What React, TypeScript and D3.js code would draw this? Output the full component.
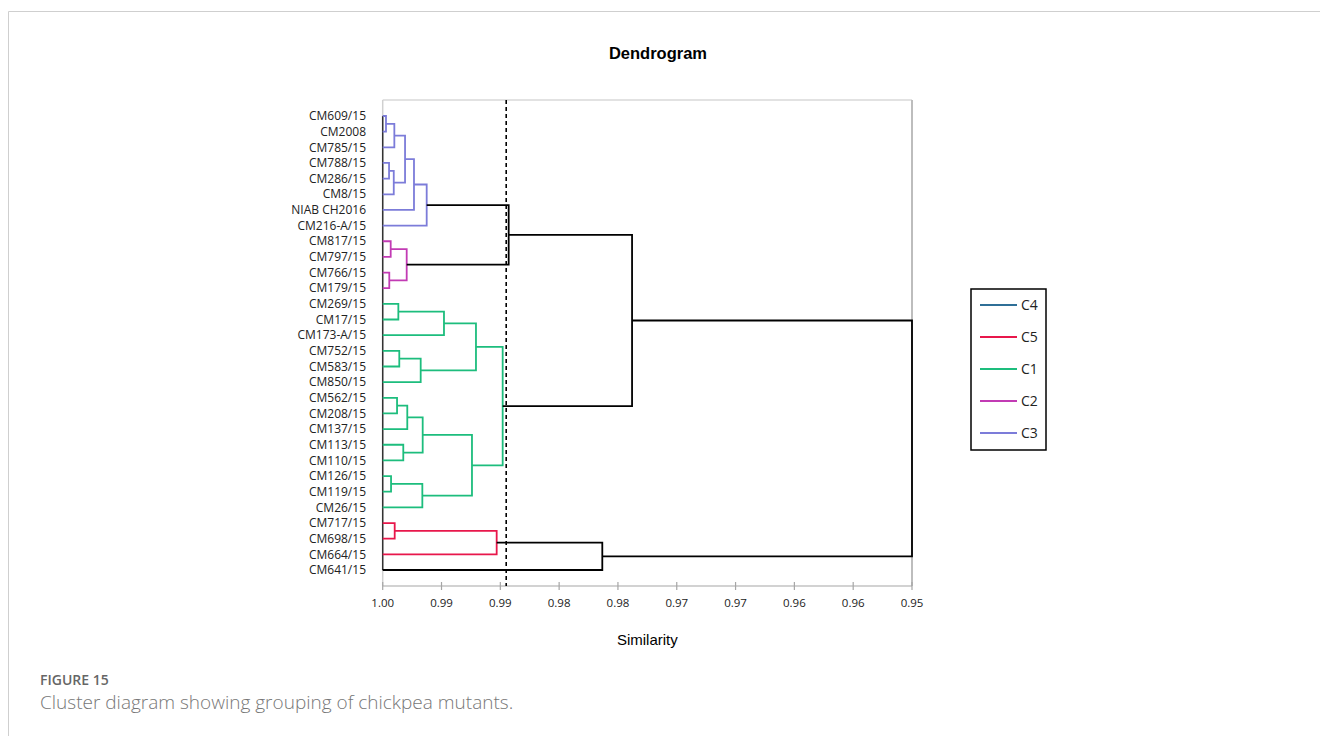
import * as d3 from "d3"

// leaf order, top to bottom
const leaves = [
  "CM609/15", "CM2008", "CM785/15", "CM788/15", "CM286/15", "CM8/15", "NIAB CH2016", "CM216-A/15",
  "CM817/15", "CM797/15", "CM766/15", "CM179/15",
  "CM269/15", "CM17/15", "CM173-A/15", "CM752/15", "CM583/15", "CM850/15", "CM562/15", "CM208/15",
  "CM137/15", "CM113/15", "CM110/15", "CM126/15", "CM119/15", "CM26/15",
  "CM717/15", "CM698/15", "CM664/15", "CM641/15",
]

// merges: [id, left, right, similarity, cluster] (null cluster = black link)
const merges: [string, string, string, number, string | null][] = [
  ["a1", "CM609/15", "CM2008", 0.99972, "C3"],
  ["a2", "a1", "CM785/15", 0.99901, "C3"],
  ["a3", "CM788/15", "CM286/15", 0.99946, "C3"],
  ["a4", "a3", "CM8/15", 0.99906, "C3"],
  ["a5", "a2", "a4", 0.9981, "C3"],
  ["a6", "a5", "NIAB CH2016", 0.99734, "C3"],
  ["a7", "a6", "CM216-A/15", 0.99626, "C3"],
  ["b1", "CM817/15", "CM797/15", 0.99932, "C2"],
  ["b2", "CM766/15", "CM179/15", 0.99944, "C2"],
  ["b3", "b1", "b2", 0.99796, "C2"],
  ["ab", "a7", "b3", 0.98929, null],
  ["g1", "CM269/15", "CM17/15", 0.99867, "C1"],
  ["g2", "g1", "CM173-A/15", 0.99479, "C1"],
  ["g3", "CM752/15", "CM583/15", 0.99859, "C1"],
  ["g4", "g3", "CM850/15", 0.99677, "C1"],
  ["g5", "g2", "g4", 0.99207, "C1"],
  ["g6", "CM562/15", "CM208/15", 0.99878, "C1"],
  ["g7", "g6", "CM137/15", 0.99791, "C1"],
  ["g8", "CM113/15", "CM110/15", 0.99825, "C1"],
  ["g9", "g7", "g8", 0.9966, "C1"],
  ["g10", "CM126/15", "CM119/15", 0.99929, "C1"],
  ["g11", "g10", "CM26/15", 0.99663, "C1"],
  ["g12", "g9", "g11", 0.99241, "C1"],
  ["g13", "g5", "g12", 0.9898, "C1"],
  ["abg", "ab", "g13", 0.9788, null],
  ["r1", "CM717/15", "CM698/15", 0.99898, "C5"],
  ["r2", "r1", "CM664/15", 0.99031, "C5"],
  ["r3", "r2", "CM641/15", 0.98133, null],
  ["root", "abg", "r3", 0.955, null],
]

const tickValues = [1, 0.995, 0.99, 0.985, 0.98, 0.975, 0.97, 0.965, 0.96, 0.955]
const tickLabels = ["1.00", "0.99", "0.99", "0.98", "0.98", "0.97", "0.97", "0.96", "0.96", "0.95"]

const cutoff = 0.9895

const legendKeys = ["C4", "C5", "C1", "C2", "C3"]
const clusterColors: Record<string, string> = {
  C4: "#2f6f97",
  C5: "#e8174b",
  C1: "#1dbd7d",
  C2: "#c23bb4",
  C3: "#7c7cd9",
}

const labelFont = "'Open Sans', 'Noto Sans', sans-serif"
const arial = "'Liberation Sans', Arial, sans-serif"

export default function App() {
  const left = 382.7
  const right = 912
  const top = 100
  const axisY = 586

  const x = d3.scaleLinear().domain([1, 0.955]).range([left, right])
  const y = d3.scalePoint<string>().domain(leaves).range([116, 570])

  // node positions
  const pos = new Map<string, { x: number; y: number }>()
  leaves.forEach((l) => pos.set(l, { x: x(1), y: y(l) as number }))
  const links = merges.map(([id, a, b, sim, cl]) => {
    const pa = pos.get(a)!
    const pb = pos.get(b)!
    const nx = x(sim)
    pos.set(id, { x: nx, y: (pa.y + pb.y) / 2 })
    const path = d3.path()
    path.moveTo(pa.x, pa.y)
    path.lineTo(nx, pa.y)
    path.lineTo(nx, pb.y)
    path.lineTo(pb.x, pb.y)
    return { id, d: path.toString(), color: cl ? clusterColors[cl] : "#000", black: !cl }
  })

  const ordered = [...links.filter((l) => !l.black), ...links.filter((l) => l.black)]

  return (
    <svg
      width={1320}
      height={736}
      style={{ position: "absolute", left: 0, top: 0, background: "#fff" }}
    >
      {/* page frame */}
      <path d="M8.5,736 L8.5,11.5 L1320,11.5" fill="none" stroke="#cfcfcf" strokeWidth={1} />

      <text x={658} y={59} textAnchor="middle" fontFamily={arial} fontWeight="bold" fontSize={16.5} fill="#000">
        Dendrogram
      </text>

      {/* plot area frame */}
      <line x1={left} x2={right} y1={top} y2={top} stroke="#d9d9d9" strokeWidth={1.5} />
      <line x1={right} x2={right} y1={top} y2={axisY} stroke="#bdbdbd" strokeWidth={2} />
      <line x1={left} x2={left} y1={top} y2={axisY} stroke="#d0d0d0" strokeWidth={1.5} />

      {/* x axis */}
      <line x1={left} x2={right} y1={axisY} y2={axisY} stroke="#a6a6a6" strokeWidth={1.2} />
      {tickValues.map((t, i) => (
        <g key={i}>
          <line x1={x(t)} x2={x(t)} y1={axisY - 4} y2={axisY + 4} stroke="#a6a6a6" strokeWidth={1.2} />
          <text x={x(t)} y={axisY + 21} textAnchor="middle" fontFamily={labelFont} fontSize={11.5} fill="#222">
            {tickLabels[i]}
          </text>
        </g>
      ))}
      <text x={(left + right) / 2} y={645} textAnchor="middle" fontFamily={arial} fontSize={15} fill="#000">
        Similarity
      </text>

      {/* leaf labels */}
      {leaves.map((l) => (
        <text key={l} x={366} y={(y(l) as number) + 4.2} textAnchor="end" fontFamily={labelFont} fontSize={12} fill="#222">
          {l}
        </text>
      ))}

      {/* leaf base line */}
      <line x1={x(1)} x2={x(1)} y1={y(leaves[0])} y2={y(leaves[leaves.length - 1])} stroke="#333" strokeWidth={1.5} />

      {/* tree links */}
      {ordered.map((l) => (
        <path key={l.id} d={l.d} fill="none" stroke={l.color} strokeWidth={1.8} />
      ))}

      {/* cut-off */}
      <line x1={x(cutoff)} x2={x(cutoff)} y1={top} y2={axisY} stroke="#000" strokeWidth={1.6} strokeDasharray="4,3" />

      {/* legend */}
      <rect x={971} y={289} width={75} height={161} fill="#fff" stroke="#000" strokeWidth={1.5} />
      {legendKeys.map((k, i) => (
        <g key={k} transform={`translate(980, ${305 + i * 32})`}>
          <line x1={0} x2={37} y1={0} y2={0} stroke={clusterColors[k]} strokeWidth={2} />
          <text x={41} y={5} fontFamily={labelFont} fontSize={14} fill="#222">
            {k}
          </text>
        </g>
      ))}

      {/* caption */}
      <text x={40} y={685} fontFamily={labelFont} fontSize={14} fontWeight={600} fill="#666">
        FIGURE 15
      </text>
      <text x={40} y={709} fontFamily={labelFont} fontSize={19} fontWeight={300} fill="#777">
        Cluster diagram showing grouping of chickpea mutants.
      </text>
    </svg>
  )
}
